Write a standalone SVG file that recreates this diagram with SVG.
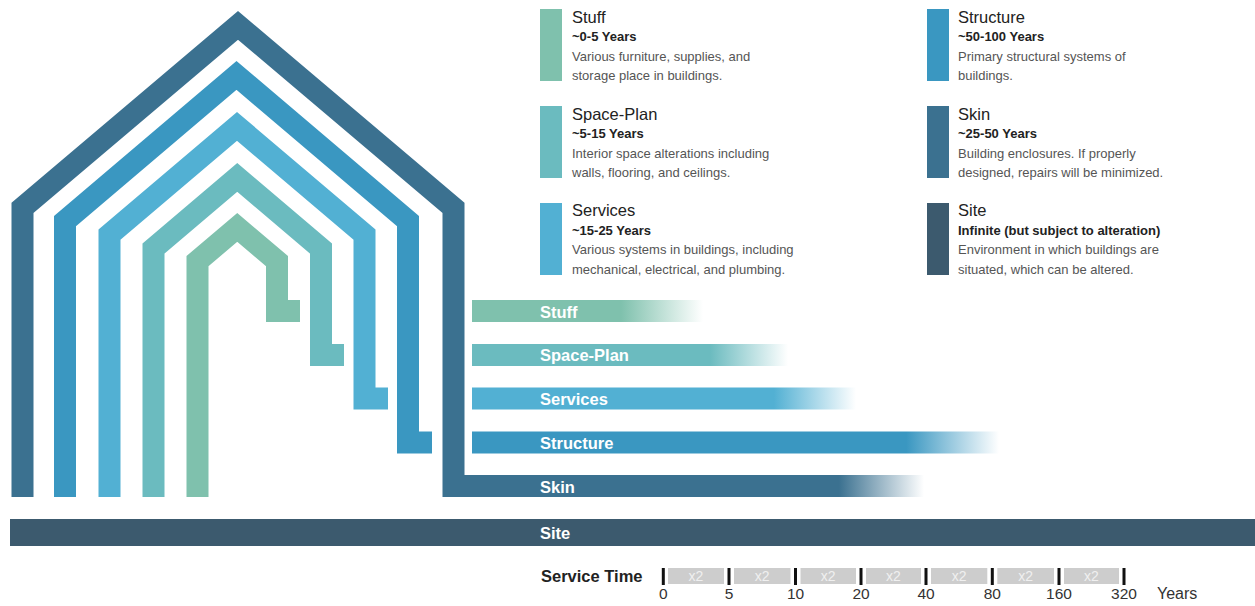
<svg xmlns="http://www.w3.org/2000/svg" width="1255" height="606" viewBox="0 0 1255 606">
<style>
.house{fill:none;stroke-width:22;stroke-linejoin:miter;stroke-miterlimit:10;stroke-linecap:butt}
.lbl{font-family:"Liberation Sans",Arial,sans-serif;font-weight:bold;font-size:16.5px;fill:#ffffff}
.ttl{font-family:"Liberation Sans",Arial,sans-serif;font-size:16.5px;fill:#222222}
.sub{font-family:"Liberation Sans",Arial,sans-serif;font-weight:bold;font-size:13px;fill:#222222}
.desc{font-family:"Liberation Sans",Arial,sans-serif;font-size:13px;fill:#555555}
.tick{fill:#111111}
.box{fill:#cdcdcd}
.x2{font-family:"Liberation Sans",Arial,sans-serif;font-size:14px;fill:#f0f0f0;text-anchor:middle}
.num{font-family:"Liberation Sans",Arial,sans-serif;font-size:15.5px;fill:#333333;text-anchor:middle}
</style>
<defs>
<linearGradient id="gStuff" x1="0" y1="0" x2="1" y2="0"><stop offset="0.645" stop-color="#7fc1ad"/><stop offset="1" stop-color="#7fc1ad" stop-opacity="0"/></linearGradient>
<linearGradient id="gSpace" x1="0" y1="0" x2="1" y2="0"><stop offset="0.753" stop-color="#6bbbbf"/><stop offset="1" stop-color="#6bbbbf" stop-opacity="0"/></linearGradient>
<linearGradient id="gServ" x1="0" y1="0" x2="1" y2="0"><stop offset="0.786" stop-color="#52b0d3"/><stop offset="1" stop-color="#52b0d3" stop-opacity="0"/></linearGradient>
<linearGradient id="gStruct" x1="0" y1="0" x2="1" y2="0"><stop offset="0.824" stop-color="#3a97c1"/><stop offset="1" stop-color="#3a97c1" stop-opacity="0"/></linearGradient>
<linearGradient id="gSkin" x1="0" y1="0" x2="1" y2="0"><stop offset="0.815" stop-color="#3b7190"/><stop offset="1" stop-color="#3b7190" stop-opacity="0"/></linearGradient>
</defs>

<g id="site">
<rect x="10" y="519" width="1245" height="27" fill="#3c5a6e"/>
<text class="lbl" x="540" y="538.5">Site</text>
<rect x="927" y="203" width="22" height="72" fill="#3c5a6e"/>
<text class="ttl" x="958" y="216">Site</text>
<text class="sub" x="958" y="234.5">Infinite (but subject to alteration)</text>
<text class="desc" x="958" y="254">Environment in which buildings are</text>
<text class="desc" x="958" y="273.5">situated, which can be altered.</text>
</g>

<g id="skin">
<polyline class="house" stroke="#3b7190" points="22.5,497 22.5,207.9 238,25.4 453.5,207.9 453.5,486 470,486"/>
<rect x="464" y="475" width="460" height="22" fill="url(#gSkin)"/>
<text class="lbl" x="540" y="492.5">Skin</text>
<rect x="927" y="106" width="22" height="72" fill="#3b7190"/>
<text class="ttl" x="958" y="119.5">Skin</text>
<text class="sub" x="958" y="138">~25-50 Years</text>
<text class="desc" x="958" y="157.5">Building enclosures. If properly</text>
<text class="desc" x="958" y="177">designed, repairs will be minimized.</text>
</g>

<g id="structure">
<polyline class="house" stroke="#3a97c1" points="65,497 65,221 236.5,75.4 408,221 408,442.5 432,442.5"/>
<rect x="472" y="431.5" width="527" height="22" fill="url(#gStruct)"/>
<text class="lbl" x="540" y="448.5">Structure</text>
<rect x="927" y="9" width="22" height="72" fill="#3a97c1"/>
<text class="ttl" x="958" y="22.5">Structure</text>
<text class="sub" x="958" y="41">~50-100 Years</text>
<text class="desc" x="958" y="60.5">Primary structural systems of</text>
<text class="desc" x="958" y="80">buildings.</text>
</g>

<g id="services">
<polyline class="house" stroke="#52b0d3" points="109.5,497 109.5,234.6 237,126.4 364.5,234.6 364.5,398.5 388,398.5"/>
<rect x="472" y="387.5" width="384" height="22" fill="url(#gServ)"/>
<text class="lbl" x="540" y="404.5">Services</text>
<rect x="540" y="203" width="22" height="72" fill="#52b0d3"/>
<text class="ttl" x="572" y="216">Services</text>
<text class="sub" x="572" y="234.5">~15-25 Years</text>
<text class="desc" x="572" y="254">Various systems in buildings, including</text>
<text class="desc" x="572" y="273.5">mechanical, electrical, and plumbing.</text>
</g>

<g id="space-plan">
<polyline class="house" stroke="#6bbbbf" points="153.5,497 153.5,248.5 237.25,177.4 321,248.5 321,355 344,355"/>
<rect x="472" y="344" width="316" height="22" fill="url(#gSpace)"/>
<text class="lbl" x="540" y="361">Space-Plan</text>
<rect x="540" y="106" width="22" height="72" fill="#6bbbbf"/>
<text class="ttl" x="572" y="119.5">Space-Plan</text>
<text class="sub" x="572" y="138">~5-15 Years</text>
<text class="desc" x="572" y="157.5">Interior space alterations including</text>
<text class="desc" x="572" y="177">walls, flooring, and ceilings.</text>
</g>

<g id="stuff">
<polyline class="house" stroke="#7fc1ad" points="197.5,497 197.5,261.1 237.25,227.4 277,261.1 277,311 300,311"/>
<rect x="472" y="300" width="231" height="22" fill="url(#gStuff)"/>
<text class="lbl" x="540" y="317.5">Stuff</text>
<rect x="540" y="9" width="22" height="72" fill="#7fc1ad"/>
<text class="ttl" x="572" y="22.5">Stuff</text>
<text class="sub" x="572" y="41">~0-5 Years</text>
<text class="desc" x="572" y="60.5">Various furniture, supplies, and</text>
<text class="desc" x="572" y="80">storage place in buildings.</text>
</g>

<g id="service-time">
<text x="541" y="582" font-family="Liberation Sans, Arial, sans-serif" font-weight="bold" font-size="16.5" fill="#222222">Service Time</text>
<rect class="box" x="668" y="568" width="56" height="16"/>
<rect class="box" x="734" y="568" width="56.5" height="16"/>
<rect class="box" x="800.5" y="568" width="55.5" height="16"/>
<rect class="box" x="866" y="568" width="55" height="16"/>
<rect class="box" x="931" y="568" width="56.3" height="16"/>
<rect class="box" x="997.3" y="568" width="56.7" height="16"/>
<rect class="box" x="1064" y="568" width="55" height="16"/>
<text class="x2" x="696" y="581">x2</text>
<text class="x2" x="762.2" y="581">x2</text>
<text class="x2" x="828.2" y="581">x2</text>
<text class="x2" x="893.5" y="581">x2</text>
<text class="x2" x="959.2" y="581">x2</text>
<text class="x2" x="1025.6" y="581">x2</text>
<text class="x2" x="1091.5" y="581">x2</text>
<rect class="tick" x="661.8" y="568" width="3" height="17"/>
<rect class="tick" x="727.5" y="568" width="3" height="17"/>
<rect class="tick" x="794" y="568" width="3" height="17"/>
<rect class="tick" x="859.5" y="568" width="3" height="17"/>
<rect class="tick" x="924.5" y="568" width="3" height="17"/>
<rect class="tick" x="990.8" y="568" width="3" height="17"/>
<rect class="tick" x="1057.5" y="568" width="3" height="17"/>
<rect class="tick" x="1122.5" y="568" width="3" height="17"/>
<text class="num" x="663.3" y="599">0</text>
<text class="num" x="729" y="599">5</text>
<text class="num" x="795.5" y="599">10</text>
<text class="num" x="861" y="599">20</text>
<text class="num" x="926" y="599">40</text>
<text class="num" x="992.3" y="599">80</text>
<text class="num" x="1059" y="599">160</text>
<text class="num" x="1124" y="599">320</text>
<text x="1157" y="599" font-family="Liberation Sans, Arial, sans-serif" font-size="16" fill="#333333">Years</text>
</g>
</svg>
